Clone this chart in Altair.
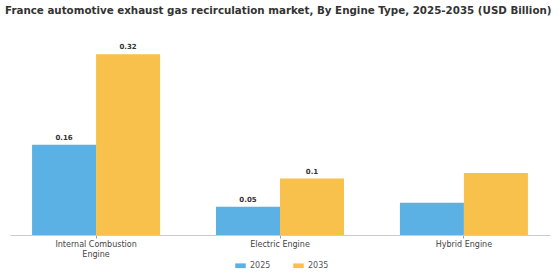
import altair as alt
import pandas as pd

categories = ["Internal Combustion Engine", "Electric Engine", "Hybrid Engine"]
years = ["2025", "2035"]
values_2025 = [0.16, 0.05, 0.057]
values_2035 = [0.32, 0.10, 0.11]
labels_2025 = ["0.16", "0.05", ""]
labels_2035 = ["0.32", "0.1", ""]

rows = []
for i, c in enumerate(categories):
    rows.append({"cat": c, "year": "2025", "value": values_2025[i], "label": labels_2025[i]})
    rows.append({"cat": c, "year": "2035", "value": values_2035[i], "label": labels_2035[i]})
df = pd.DataFrame(rows)

FONT = "DejaVu Sans"

x = alt.X("cat:N", sort=categories, title=None,
          scale=alt.Scale(paddingInner=0.304, paddingOuter=0.12),
          axis=alt.Axis(labelAngle=0, labelFontSize=8, labelColor="#444", labelFont=FONT,
                        domainColor="#ccc", tickColor="#999", tickSize=3, labelPadding=2,
                        labelExpr="datum.label == 'Internal Combustion Engine' ? ['Internal Combustion', 'Engine'] : datum.label"))
xo = alt.XOffset("year:N", sort=years)
y = alt.Y("value:Q", title=None, scale=alt.Scale(domain=[0, 0.34]), axis=None)

bars = alt.Chart(df).mark_bar().encode(
    x=x, xOffset=xo, y=y,
    color=alt.Color("year:N", sort=years, title=None,
                    scale=alt.Scale(domain=years, range=["#5BB0E4", "#F7C14B"]),
                    legend=alt.Legend(orient="none", direction="horizontal", legendX=225, legendY=217,
                                      symbolType="M-1,-0.45L1,-0.45L1,0.45L-1,0.45Z", symbolSize=110,
                                      labelFontSize=8, labelColor="#555", labelFont=FONT,
                                      columnPadding=22, symbolStrokeWidth=0))
)

text = alt.Chart(df).mark_text(dy=-7, fontSize=7, fontWeight="bold", color="#333", font=FONT).encode(
    x=x, xOffset=xo, y=y, text="label:N"
)

chart = (bars + text).properties(
    width=540, height=192,
    title=alt.Title("France automotive exhaust gas recirculation market, By Engine Type, 2025-2035 (USD Billion)",
                    anchor="start", fontSize=10.3, fontWeight="bold", color="#333", font=FONT,
                    dx=-5, offset=27, frame="group"),
    autosize=alt.AutoSizeParams(type="none"),
    padding={"left": 10, "top": 43, "right": 10, "bottom": 45},
).configure_view(stroke=None)

chart.save("out.html", embed_options={"renderer": "svg", "actions": False})
